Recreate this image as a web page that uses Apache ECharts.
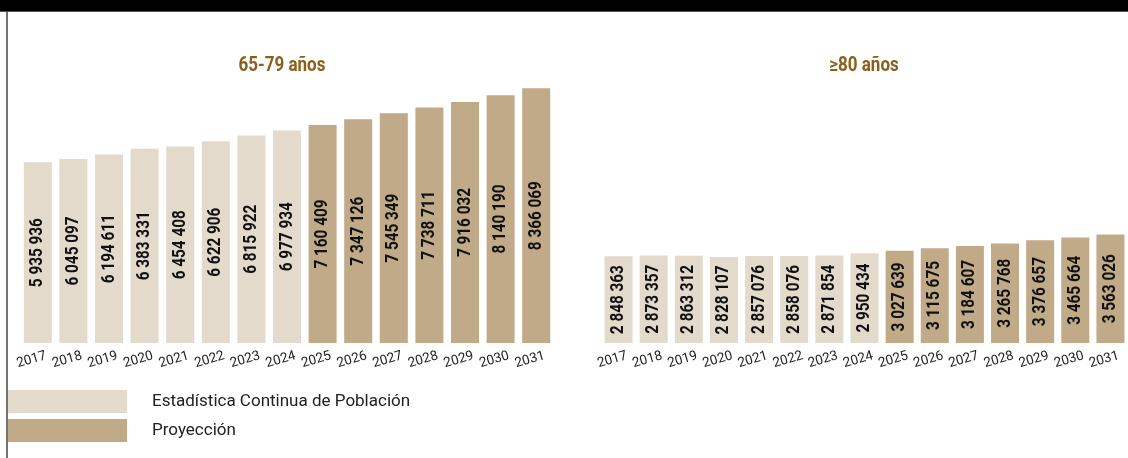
<!DOCTYPE html>
<html>
<head>
<meta charset="utf-8">
<script src="https://cdn.jsdelivr.net/npm/echarts@6/dist/echarts.min.js"></script>
<style>
  html, body { margin: 0; padding: 0; background: #fff; }
  #chart { width: 1128px; height: 458px; }
</style>
</head>
<body>
<div id="chart"></div>
<script>
// Years shown on both panels
const years = ['2017','2018','2019','2020','2021','2022','2023','2024','2025','2026','2027','2028','2029','2030','2031'];

// Population aged 65-79: observed (2017-2024) and projected (2025-2031)
const observed6579 = [5935936, 6045097, 6194611, 6383331, 6454408, 6622906, 6815922, 6977934];
const projected6579 = [7160409, 7347126, 7545349, 7738711, 7916032, 8140190, 8366069];

// Population aged 80 and over: observed and projected
const observed80 = [2848363, 2873357, 2863312, 2828107, 2857076, 2858076, 2871854, 2950434];
const projected80 = [3027639, 3115675, 3184607, 3265768, 3376657, 3465664, 3563026];

const panelTitles = ['65-79 años', '≥80 años'];
const seriesNames = ['Estadística Continua de Población', 'Proyección'];

const LIGHT = '#E3DACC';
const DARK = '#C1AA87';
const TITLE_COLOR = '#8B5E1A';
const FONT = "Roboto, 'Liberation Sans', sans-serif";

// thousands separated by a space
function fmt(v) {
  return String(v).replace(/\B(?=(\d{3})+(?!\d))/g, ' ');
}

// pad observed / projected values so each lands on its own year
function padObserved(arr) { return years.map((y, i) => i < arr.length ? arr[i] : '-'); }
function padProjected(obs, arr) { return years.map((y, i) => i >= obs.length ? arr[i - obs.length] : '-'); }

function barSeries(name, data, color, idx) {
  return {
    name: name,
    type: 'bar',
    xAxisIndex: idx,
    yAxisIndex: idx,
    stack: 'panel' + idx,
    barWidth: 28,
    data: data,
    itemStyle: { color: color },
    emphasis: { disabled: true }
  };
}

// vertical value labels, condensed, centred in each bar
function labelSeries(values, idx) {
  return {
    name: 'labels' + idx,
    type: 'custom',
    xAxisIndex: idx,
    yAxisIndex: idx,
    silent: true,
    z: 5,
    data: values.map((v, i) => [i, v]),
    renderItem: function (params, api) {
      const v = api.value(1);
      const top = api.coord([api.value(0), v]);
      const bottom = api.coord([api.value(0), 0]);
      return {
        type: 'text',
        x: top[0],
        y: (top[1] + bottom[1]) / 2,
        rotation: Math.PI / 2,
        scaleX: 0.85,
        style: {
          text: fmt(v),
          font: 'bold 18px ' + FONT,
          fill: '#111',
          textAlign: 'center',
          textVerticalAlign: 'middle'
        }
      };
    }
  };
}

const xAxisBase = {
  type: 'category',
  data: years,
  axisLine: { show: false },
  axisTick: { show: false },
  axisLabel: {
    rotate: 16,
    margin: 15,
    color: '#222',
    fontFamily: FONT,
    fontSize: 13.5,
    interval: 0,
    align: 'center',
    padding: [0, 13, 0, 0]
  }
};

const yAxisBase = { type: 'value', min: 0, max: 9000000, show: false };

const option = {
  animation: false,
  grid: [
    { left: 20, width: 534, top: 69, bottom: 115 },
    { left: 601, width: 534, top: 69, bottom: 115 }
  ],
  xAxis: [
    Object.assign({ gridIndex: 0 }, xAxisBase),
    Object.assign({ gridIndex: 1 }, xAxisBase)
  ],
  yAxis: [
    Object.assign({ gridIndex: 0 }, yAxisBase),
    Object.assign({ gridIndex: 1 }, yAxisBase)
  ],
  legend: {
    orient: 'vertical',
    left: 8,
    top: 390,
    padding: 0,
    itemWidth: 119,
    itemHeight: 23,
    itemGap: 6,
    icon: 'rect',
    selectedMode: false,
    data: seriesNames,
    textStyle: {
      color: '#222',
      fontFamily: FONT,
      fontSize: 17,
      padding: [2, 0, 0, 20]
    }
  },
  graphic: [
    // header band
    { type: 'rect', shape: { x: 0, y: 0, width: 1128, height: 11 }, style: { fill: '#000' } },
    { type: 'line', shape: { x1: 0, y1: 11.5, x2: 1128, y2: 11.5 }, style: { stroke: '#555', lineWidth: 1 } },
    // left frame line
    { type: 'line', shape: { x1: 7, y1: 11, x2: 7, y2: 458 }, style: { stroke: '#444', lineWidth: 1.5 } },
    // panel titles
    { type: 'text', x: 282, y: 66, scaleX: 0.85, style: { text: panelTitles[0], fill: TITLE_COLOR, font: 'bold 20px ' + FONT, textAlign: 'center', textVerticalAlign: 'middle' } },
    { type: 'text', x: 864, y: 66, scaleX: 0.85, style: { text: panelTitles[1], fill: TITLE_COLOR, font: 'bold 20px ' + FONT, textAlign: 'center', textVerticalAlign: 'middle' } }
  ],
  series: [
    barSeries(seriesNames[0], padObserved(observed6579), LIGHT, 0),
    barSeries(seriesNames[1], padProjected(observed6579, projected6579), DARK, 0),
    barSeries(seriesNames[0], padObserved(observed80), LIGHT, 1),
    barSeries(seriesNames[1], padProjected(observed80, projected80), DARK, 1),
    labelSeries(observed6579.concat(projected6579), 0),
    labelSeries(observed80.concat(projected80), 1)
  ]
};

const chart = echarts.init(document.getElementById('chart'), null, { renderer: 'canvas' });
chart.setOption(option);
</script>
</body>
</html>
